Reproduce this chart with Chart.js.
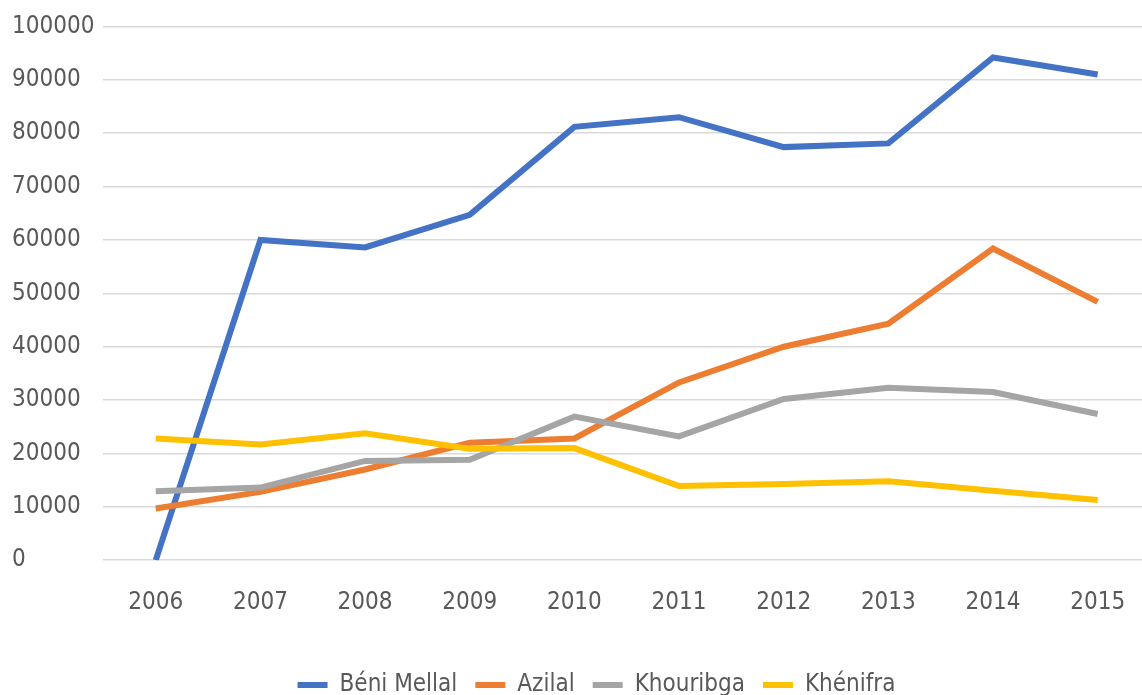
<!DOCTYPE html>
<html>
<head>
<meta charset="utf-8">
<script src="https://cdn.jsdelivr.net/npm/chart.js@4/dist/chart.umd.min.js"></script>
<style>
  html, body { margin: 0; padding: 0; background: #ffffff; overflow: hidden; }
  #wrap { width: 1193px; height: 707px; }
</style>
</head>
<body>
<div id="wrap"><canvas id="chart" width="1193" height="707"></canvas></div>
<script>
// Years on the category axis
const years = ['2006', '2007', '2008', '2009', '2010', '2011', '2012', '2013', '2014', '2015'];

// Series values per province
const beniMellal = [0, 60000, 58600, 64700, 81200, 83000, 77400, 78100, 94200, 91000];
const azilal     = [9700, 12800, 17000, 22000, 22800, 33300, 40000, 44300, 58400, 48400];
const khouribga  = [12900, 13600, 18600, 18800, 26900, 23200, 30200, 32300, 31500, 27400];
const khenifra   = [22800, 21700, 23800, 20900, 21000, 13900, 14300, 14800, 13000, 11300];

const seriesNames = ['Béni Mellal', 'Azilal', 'Khouribga', 'Khénifra'];
const seriesColors = ['#4472C4', '#ED7D31', '#A5A5A5', '#FFC000'];

// Value axis range
const yMin = 0;
const yMax = 100000;
const yStep = 10000;

const FONT = "'DejaVu Sans Condensed', 'DejaVu Sans', sans-serif";
const FONT_SIZE = 24;
const TEXT_COLOR = '#595959';

const values = [beniMellal, azilal, khouribga, khenifra];
const datasets = values.map((vals, i) => ({
  label: seriesNames[i],
  data: vals,
  borderColor: seriesColors[i],
  backgroundColor: seriesColors[i],
  borderWidth: 6,
  tension: 0,
  pointRadius: 0,
  pointHoverRadius: 0,
  fill: false,
  // later series sit on top of earlier ones
  order: values.length - i
}));

// Centre the legend on the whole canvas rather than on the padded layout box
const legendCentre = {
  id: 'legendCentre',
  afterLayout(chart) {
    const lg = chart.legend;
    if (!lg) return;
    const shift = chart.width / 2 - (lg.left + lg.right) / 2;
    lg.left += shift;
    lg.right += shift;
  }
};

new Chart(document.getElementById('chart'), {
  type: 'line',
  data: { labels: years, datasets: datasets },
  plugins: [legendCentre],
  options: {
    responsive: false,
    animation: false,
    layout: { padding: { left: 12, right: 43, top: 26.5, bottom: 0 } },
    plugins: {
      tooltip: { enabled: false },
      legend: {
        position: 'bottom',
        labels: {
          font: { family: FONT, size: FONT_SIZE },
          color: TEXT_COLOR,
          boxWidth: 30,
          boxHeight: 6,
          padding: 18,
          generateLabels: (chart) => chart.data.datasets.map((ds, i) => ({
            text: ds.label,
            fillStyle: ds.borderColor,
            strokeStyle: ds.borderColor,
            lineWidth: 0,
            hidden: !chart.isDatasetVisible(i),
            datasetIndex: i,
            fontColor: TEXT_COLOR
          }))
        }
      }
    },
    scales: {
      x: {
        offset: true,
        grid: { display: false, drawTicks: false },
        border: { display: false },
        ticks: {
          font: { family: FONT, size: FONT_SIZE },
          color: TEXT_COLOR,
          padding: 28,
          maxRotation: 0,
          autoSkip: false
        },
        // extra room between the year labels and the legend
        afterFit: (scale) => { scale.height += 10; }
      },
      y: {
        min: yMin,
        max: yMax,
        grid: { color: '#D9D9D9', lineWidth: 1.6, drawTicks: false },
        border: { display: false },
        ticks: {
          stepSize: yStep,
          font: { family: FONT, size: FONT_SIZE },
          color: TEXT_COLOR,
          padding: 4.5,
          crossAlign: 'far',
          callback: (v) => String(v)
        }
      }
    }
  }
});
</script>
</body>
</html>
